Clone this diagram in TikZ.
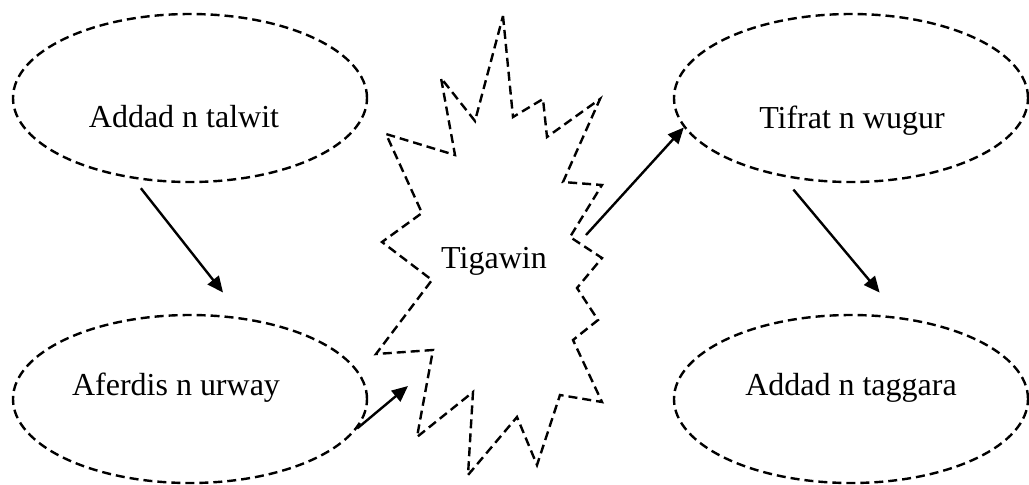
\documentclass[tikz,border=0pt]{standalone}
\usepackage{fontspec}
\setmainfont{Liberation Serif}
\usetikzlibrary{shapes.geometric,arrows.meta}

\begin{document}
\begin{tikzpicture}[
    x=0.5pt, y=-0.5pt,
    line width=1.2pt,
    dashline/.style={dash pattern=on 4.5pt off 2.5pt},
    oval/.style={draw, dashline, ellipse, minimum width=177pt, minimum height=84pt, inner sep=0pt},
    txt/.style={font=\fontsize{16}{19}\selectfont, anchor=base, inner sep=0pt},
    link/.style={-{Triangle[length=8pt,width=7pt]}}
]
    \useasboundingbox (0,0) rectangle (1029,484);
    % Ellipses
    \node[oval] (talwit) at (190,98) {};
    \node[oval] (urway) at (190,399) {};
    \node[oval] (wugur) at (851,98) {};
    \node[oval] (taggara) at (851,399) {};
    % Texts
    \node[txt] (talwit-t) at ([shift={(-6,29)}]talwit.center) {Addad n talwit};
    \node[txt] (urway-t) at ([shift={(-14,-4)}]urway.center) {Aferdis n urway};
    \node[txt] (wugur-t) at ([shift={(1,30)}]wugur.center) {Tifrat n wugur};
    \node[txt] (taggara-t) at ([shift={(0,-4)}]taggara.center) {Addad n taggara};
    % Burst
    \draw[dashline] (503,16) -- (513,117) -- (543,99) -- (547,137)
        -- (600,99) -- (563,182) -- (602,185) -- (570,237)
        -- (602,258) -- (577,288) -- (598,320) -- (573,340)
        -- (602,402) -- (560,395) -- (537,465) -- (517,417)
        -- (468,475) -- (473,392) -- (417,437) -- (433,350)
        -- (376,354) -- (432,280) -- (382,242) -- (422,213)
        -- (386,134) -- (455,155) -- (441,78) -- (475,121) -- cycle;
    \node[txt] (tigawin) at (494,268) {Tigawin};
    % Arrows
    \coordinate (inb) at (408,386);
    \coordinate (outb) at (586,235);
    \draw[link, shorten <=6pt, shorten >=16pt] (talwit.-125) -- (urway.57);
    \draw[link] (urway.-10) -- (inb);
    \draw[link] (outb) -- (wugur.190);
    \draw[link, shorten <=8.4pt, shorten >=16pt] (wugur.-131) -- (taggara.59);
\end{tikzpicture}
\end{document}
